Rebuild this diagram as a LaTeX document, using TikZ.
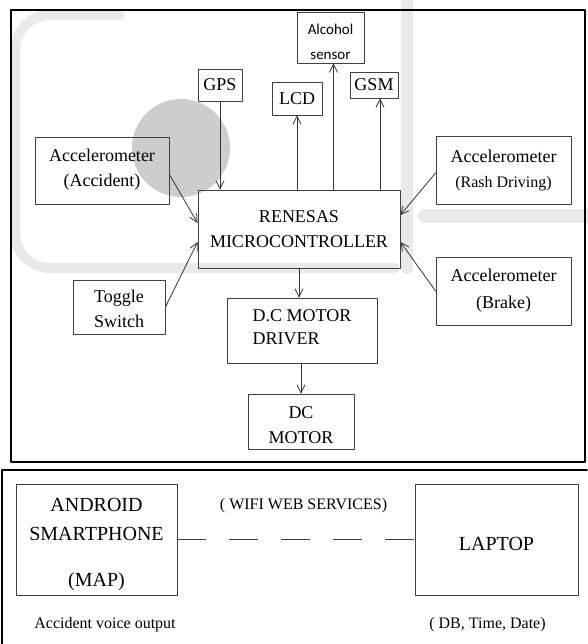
\documentclass[tikz,border=0pt]{standalone}
\usepackage{fontspec}
\setmainfont{Liberation Serif}
\newfontfamily\sensorfont{Carlito}
\usetikzlibrary{arrows.meta}

\begin{document}
\begin{tikzpicture}[x=1pt, y=-1pt, line cap=round, line join=round,
  blk/.style={draw=black!75, line width=0.9pt, inner sep=0pt, align=center,
    font=\fontsize{18}{25}\selectfont},
  link/.style={draw=black!80, line width=0.8pt, -{Straight Barb[length=8pt,width=8pt]}},
  frame/.style={line width=1.8pt},
  note/.style={inner sep=0pt, font=\fontsize{16}{20}\selectfont}]
  \definecolor{markgray}{RGB}{205,205,205}
  \definecolor{bandgray}{RGB}{233,233,233}
  \useasboundingbox (0,0) rectangle (587,644);
  \fill[markgray] (181,148) circle (49);
  \draw[bandgray, line width=10pt, rounded corners=35pt] (120,15) -- (15,15) -- (15,268) -- (395,268);
  \draw[bandgray, line width=12pt] (407,0) -- (407,268);
  \draw[bandgray, line width=14pt] (425,216) -- (587,216);
  \draw[frame] (11,10) rectangle (585,462);
  \draw[frame] (2,644) -- (2,470) -- (587,470);
  \node[blk, minimum width=44, minimum height=32] (gps) at (220,85) {GPS};
  \node[blk, minimum width=50, minimum height=33] (lcd) at (297,98.5) {LCD};
  \node[blk, minimum width=67, minimum height=51,
    font=\sensorfont\fontsize{15}{25}\selectfont] (alc) at (330.5,37.5) {\rule{0pt}{20pt}Alcohol\\sensor};
  \node[blk, minimum width=48, minimum height=26] (gsm) at (374,85) {GSM};
  \node[blk, minimum width=134, minimum height=67] (accA) at (102,170.5) {Accelerometer\\(Accident)\rule[-6pt]{0pt}{6pt}};
  \node[blk, minimum width=135, minimum height=68] (accR) at (503.5,170)
    {Accelerometer\\{\fontsize{16}{25}\selectfont(Rash Driving)}};
  \node[blk, minimum width=202, minimum height=78] (mcu) at (299,229) {RENESAS\\MICROCONTROLLER};
  \node[blk, minimum width=92, minimum height=54] (tog) at (119,307) {\rule{0pt}{17pt}Toggle\\Switch};
  \node[blk, minimum width=135, minimum height=68] (accB) at (503.5,291) {Accelerometer\\[2pt](Brake)};
  \node[blk, minimum width=150, minimum height=65, align=left] (drv) at (302,330.5) {D.C MOTOR\\[-2pt]DRIVER\rule[-6pt]{0pt}{6pt}};
  \node[blk, minimum width=106, minimum height=55] (dcm) at (301,421.5) {\rule{0pt}{20pt}DC\\MOTOR};
  \node[blk, minimum width=161, minimum height=111, font=\fontsize{20}{29}\selectfont]
    (phone) at (96.5,539.5) {\rule{0pt}{24pt}ANDROID\\SMARTPHONE\\[17pt](MAP)};
  \node[blk, minimum width=163, minimum height=111, font=\fontsize{20}{29}\selectfont]
    (lap) at (496.5,539.5) {\rule{0pt}{22pt}LAPTOP};
  \node[note] (wifi) at (303.5,506) {( WIFI WEB SERVICES)};
  \node[note] (voice) at (105,625) {Accident voice output};
  \node[note] (db) at (487.5,625) {( DB, Time, Date)};
  \coordinate (alcin) at ([xshift=3pt]alc.south);
  \coordinate (gsmin) at ([xshift=6pt]gsm.south);
  \draw[link] (gps.south) -- (gps.south |- mcu.north);
  \draw[link] (mcu.north -| lcd.south) -- (lcd.south);
  \draw[link] (mcu.north -| alcin) -- (alcin);
  \draw[link] (mcu.north -| gsmin) -- (gsmin);
  \draw[link] ([yshift=-4pt]accA.east) -- ([yshift=6pt]mcu.west);
  \draw[link] (tog.east) -- ([yshift=-13pt]mcu.west);
  \draw[link] ([yshift=-3pt]accR.west) -- ([yshift=14pt]mcu.east);
  \draw[link] (accB.west) -- ([yshift=-13pt]mcu.east);
  \draw[link] (mcu.south) -- (mcu.south |- drv.north);
  \draw[link] (drv.south -| dcm) -- (dcm.north);
  \draw[black!75, line width=1.2pt, line cap=butt, dash pattern=on 29pt off 23pt]
    (phone.east) -- (lap.west);
\end{tikzpicture}
\end{document}
